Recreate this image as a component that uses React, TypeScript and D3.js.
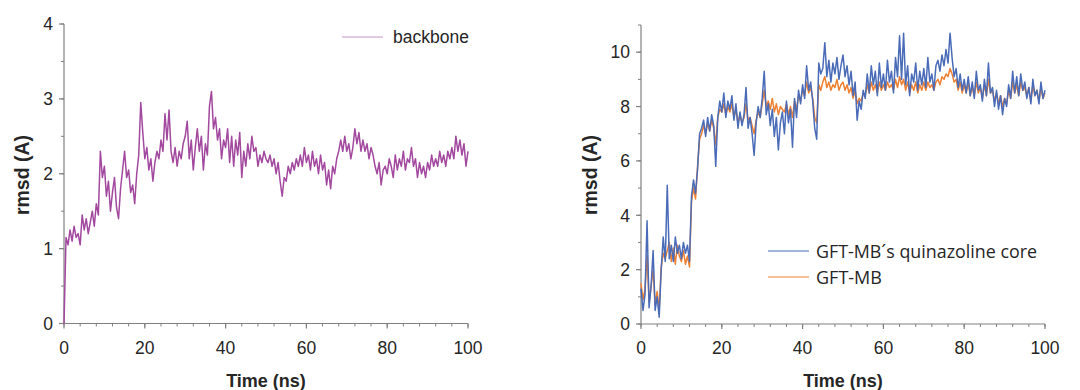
import React from "react";
import * as d3 from "d3";

// time grid (ns), one sample every 0.5 ns
const TIME: number[] = d3.range(0, 100.001, 0.5);

// left panel: backbone rmsd (A)
const BACKBONE: number[] = [
  0, 1.15, 1.05, 1.25, 1.1, 1.3, 1.15, 1.2, 1.05, 1.45,
  1.25, 1.4, 1.2, 1.35, 1.5, 1.3, 1.6, 1.45, 2.3, 1.95,
  2.1, 1.7, 1.9, 1.5, 1.75, 1.95, 1.55, 1.4, 1.8, 2.05,
  2.3, 1.95, 2.05, 1.75, 1.85, 1.6, 2.0, 2.25, 2.95, 2.55,
  2.2, 2.35, 2.05, 2.2, 1.9, 2.15, 2.3, 2.2, 2.45, 2.3,
  2.8, 2.45, 2.85, 2.3, 2.15, 2.35, 2.1, 2.3, 2.2, 2.4,
  2.5, 2.7, 2.2, 2.45, 2.05, 2.35, 2.6, 2.3, 2.5, 2.05,
  2.4, 2.25, 2.9, 3.1, 2.6, 2.75, 2.45, 2.6, 2.2, 2.45,
  2.35, 2.6, 2.15, 2.5, 2.1, 2.45, 2.25, 2.55, 1.95, 2.3,
  2.1, 2.4, 2.2, 2.5, 2.3, 2.35, 2.1, 2.25, 2.15, 2.3,
  2.2, 2.15, 2.25, 2.1, 2.2, 2.0, 2.15, 1.9, 1.7, 1.95,
  1.9, 2.1, 2.0, 2.15, 2.05, 2.2, 2.1, 2.25, 2.1, 2.35,
  2.15, 2.25, 2.05, 2.3, 2.1, 2.2, 2.0, 2.25, 2.05, 2.15,
  1.85, 2.05, 1.8, 2.1, 2.0, 2.2, 2.3, 2.45, 2.3, 2.5,
  2.3, 2.4, 2.2, 2.35, 2.6, 2.4, 2.55, 2.3, 2.45, 2.3,
  2.4, 2.2, 2.35, 2.25, 2.1, 2.0, 2.15, 1.85, 2.05, 2.1,
  2.0, 2.2, 2.1, 1.95, 2.25, 2.05, 2.2, 2.1, 2.3, 2.05,
  2.2, 2.15, 2.35, 2.1, 2.2, 1.95, 2.15, 2.0, 2.1, 1.95,
  2.15, 2.05, 2.25, 2.1, 2.2, 2.1, 2.3, 2.15, 2.25, 2.1,
  2.3, 2.2, 2.35, 2.2, 2.5, 2.3, 2.45, 2.25, 2.4, 2.1,
  2.3,
];

// right panel: GFT-MB's quinazoline core rmsd (A)
const CORE: number[] = [
  1.3, 0.5, 1.1, 3.8, 0.6, 1.4, 2.7, 0.5, 1.0, 0.25,
  2.0, 3.2, 2.3, 5.1, 2.4, 2.9, 2.3, 3.2, 2.6, 2.9,
  2.4, 3.0, 2.6, 2.9, 2.3, 4.7, 5.3, 4.8, 5.7, 7.0,
  7.2, 7.5, 6.9, 7.6, 7.1, 7.7, 7.3, 5.8, 7.6, 8.2,
  7.8, 8.5, 7.6, 8.2, 7.9, 8.4, 7.5, 8.1, 7.2, 7.8,
  7.3, 7.7, 8.7, 7.2, 7.6, 7.0, 6.2, 7.4, 8.0, 7.6,
  8.3, 9.3, 7.7, 8.1, 7.3, 7.9, 6.9, 7.6, 6.4, 7.4,
  7.8, 7.0, 8.2, 7.4, 7.9, 6.5, 8.3, 7.6, 8.6, 8.1,
  8.8, 8.3, 9.5, 8.6, 8.9, 8.2, 7.2, 6.8, 9.6, 9.2,
  9.4, 10.35, 9.1, 9.7, 8.9, 9.6, 9.2, 9.8, 9.0, 9.5,
  9.9, 9.1, 9.5, 8.8, 9.3, 8.4, 8.9, 7.5, 8.2, 7.9,
  8.6, 8.3, 9.2, 8.5, 9.5, 8.8, 9.3, 8.4, 9.6, 8.7,
  9.2, 8.6, 9.7, 8.9, 9.3, 8.5, 9.8, 9.1, 10.6, 9.0,
  10.7, 8.8, 9.5, 8.4, 9.2, 8.9, 9.6, 8.6, 9.3, 8.8,
  9.4, 8.7, 9.8, 8.9, 9.2, 8.6, 9.5, 9.7, 9.3, 9.9,
  9.5, 10.1, 9.6, 10.7, 9.8, 9.1, 9.4, 8.7, 9.2, 8.6,
  9.0, 8.5, 9.1, 8.4, 8.9, 8.3, 9.3, 8.6, 8.8, 8.2,
  9.0, 8.4, 9.6, 8.5, 8.7, 8.0, 8.6, 7.9, 8.4, 7.7,
  8.3, 8.0, 8.8, 8.3, 9.3, 8.5, 9.1, 8.4, 9.2, 8.6,
  8.9, 8.3, 8.7, 8.1, 9.0, 8.4, 8.6, 8.1, 8.9, 8.3,
  8.6,
];

// right panel: GFT-MB rmsd (A)
const WHOLE: number[] = [
  1.5, 0.9, 1.3, 2.5, 0.8, 1.4, 2.0, 0.7, 1.2, 0.5,
  2.1, 2.6, 2.4, 2.7, 3.0, 2.3, 2.8, 2.2, 2.9, 2.5,
  2.3, 2.7, 2.2, 2.5, 2.1, 4.5, 5.0, 4.6, 5.8, 6.8,
  7.0, 7.3, 7.0, 7.4, 7.1, 7.5, 7.2, 6.6, 7.6, 7.9,
  7.8, 8.1, 7.7, 8.0, 7.8, 8.1, 7.6, 7.9, 7.4, 7.7,
  7.4, 7.6, 8.1, 7.5, 7.6, 7.3, 7.0, 7.5, 7.8, 7.6,
  8.1, 8.6, 8.0, 8.2, 7.9, 8.3, 7.8, 8.1, 7.7, 8.0,
  7.9, 7.8, 8.1, 7.7, 8.0, 7.6, 8.2, 7.9, 8.4, 8.2,
  8.6, 8.4, 8.9, 8.5, 8.7, 8.3, 7.6, 7.4, 8.8, 8.6,
  8.9, 9.1, 8.7, 8.9, 8.6, 8.8, 8.7, 9.0, 8.6, 8.8,
  8.9, 8.6, 8.8, 8.5, 8.7, 8.3, 8.6, 8.1, 8.3, 8.2,
  8.5, 8.4, 8.8, 8.5, 8.9, 8.6, 8.8, 8.5, 8.9, 8.6,
  8.8, 8.6, 8.9, 8.7, 8.8, 8.6, 9.0, 8.7, 9.1, 8.8,
  9.0, 8.6, 8.9, 8.5, 8.8, 8.6, 8.9, 8.5, 8.8, 8.6,
  8.9, 8.6, 8.9, 8.7, 8.8, 8.6, 8.9, 9.0, 8.8, 9.1,
  9.0, 9.2, 9.1, 9.4, 9.2, 8.9, 9.0, 8.6, 8.9, 8.5,
  8.8, 8.5, 8.9, 8.4, 8.7, 8.4, 8.9, 8.5, 8.7, 8.3,
  8.8, 8.4, 9.0, 8.5, 8.6, 8.2, 8.5, 8.1, 8.4, 8.0,
  8.3, 8.1, 8.6, 8.3, 8.9, 8.5, 8.8, 8.4, 8.9, 8.6,
  8.7, 8.4, 8.7, 8.2, 8.8, 8.4, 8.6, 8.2, 8.7, 8.3,
  8.5,
];

const X_TICKS: number[] = [0, 20, 40, 60, 80, 100];
const X_MINOR: number[] = d3.range(0, 101, 4);
const LEFT_Y_TICKS: number[] = [0, 1, 2, 3, 4];
const LEFT_Y_MINOR: number[] = d3.range(0, 4.01, 0.5);
const RIGHT_Y_TICKS: number[] = [0, 2, 4, 6, 8, 10];
const RIGHT_Y_MINOR: number[] = d3.range(0, 11.01, 1);

const X_TITLE = "Time (ns)";
const Y_TITLE = "rmsd (A)";
const LEFT_LEGEND = "backbone";
const RIGHT_LEGEND = ["GFT-MB\u00b4s quinazoline core", "GFT-MB"];

const AXIS_COLOR = "#808080";
const TEXT_COLOR = "#262626";
const PURPLE = "#a2489e";
const PURPLE_LIGHT = "#c896c6";
const BLUE = "#4a6cb8";
const ORANGE = "#ee8033";
const FONT = "'Liberation Sans', Arial, sans-serif";

type Scale = d3.ScaleLinear<number, number>;
type PanelProps = {
  x0: number; x1: number; y0: number; y1: number;
  yMax: number; yTicks: number[]; yMinor: number[];
  titleX: number; yTitleX: number;
  children: (xs: Scale, ys: Scale) => React.ReactNode;
};

function Panel({ x0, x1, y0, y1, yMax, yTicks, yMinor, titleX, yTitleX, children }: PanelProps) {
  const xs = d3.scaleLinear().domain([0, 100]).range([x0, x1]);
  const ys = d3.scaleLinear().domain([0, yMax]).range([y0, y1]);
  return (
    <g>
      {/* axes */}
      <line x1={x0} x2={x0} y1={ys(yMax)} y2={y0} stroke={AXIS_COLOR} strokeWidth={1.2} />
      <line x1={x0} x2={x1} y1={y0} y2={y0} stroke={AXIS_COLOR} strokeWidth={1.2} />
      {yMinor.map((v) => (
        <line key={"ym" + v} x1={x0 - 3} x2={x0} y1={ys(v)} y2={ys(v)} stroke={AXIS_COLOR} strokeWidth={1} />
      ))}
      {yTicks.map((v) => (
        <g key={"y" + v}>
          <line x1={x0 - 5} x2={x0} y1={ys(v)} y2={ys(v)} stroke={AXIS_COLOR} strokeWidth={1.2} />
          <text x={x0 - 11} y={ys(v)} dy="0.36em" textAnchor="end" fontSize={17.5} fill={TEXT_COLOR} fontFamily={FONT}>{v}</text>
        </g>
      ))}
      {X_MINOR.map((v) => (
        <line key={"xm" + v} x1={xs(v)} x2={xs(v)} y1={y0} y2={y0 + 3} stroke={AXIS_COLOR} strokeWidth={1} />
      ))}
      {X_TICKS.map((v) => (
        <g key={"x" + v}>
          <line x1={xs(v)} x2={xs(v)} y1={y0} y2={y0 + 5} stroke={AXIS_COLOR} strokeWidth={1.2} />
          <text x={xs(v)} y={354} textAnchor="middle" fontSize={17.5} fill={TEXT_COLOR} fontFamily={FONT}>{v}</text>
        </g>
      ))}
      <text x={titleX} y={387} textAnchor="middle" fontSize={18} fontWeight="bold" fill={TEXT_COLOR} fontFamily={FONT}>{X_TITLE}</text>
      <text transform={`translate(${yTitleX},175) rotate(-90)`} textAnchor="middle" dy="0.35em" fontSize={19.5} fontWeight="bold" fill={TEXT_COLOR} fontFamily={FONT}>{Y_TITLE}</text>
      {children(xs, ys)}
    </g>
  );
}

export default function App() {
  const mk = (xs: Scale, ys: Scale, vals: number[]) =>
    d3.line<number>().x((_, i) => xs(TIME[i])).y((v) => ys(v))(vals) || "";

  return (
    <svg width={1080} height={390} style={{ position: "absolute", left: 0, top: 0, background: "#fff" }}>
      <rect width={1080} height={390} fill="#fff" />
      <Panel x0={64} x1={468} y0={323.5} y1={24} yMax={4} yTicks={LEFT_Y_TICKS} yMinor={LEFT_Y_MINOR} titleX={266} yTitleX={22}>
        {(xs, ys) => (
          <g>
            <path d={mk(xs, ys, BACKBONE)} fill="none" stroke={PURPLE} strokeWidth={1.5} strokeLinejoin="round" />
            <line x1={342} x2={383} y1={37} y2={37} stroke={PURPLE_LIGHT} strokeWidth={1.2} />
            <text x={393} y={43} fontSize={17.5} fill={TEXT_COLOR} fontFamily={FONT}>{LEFT_LEGEND}</text>
          </g>
        )}
      </Panel>
      <Panel x0={641} x1={1045} y0={324} y1={25} yMax={11} yTicks={RIGHT_Y_TICKS} yMinor={RIGHT_Y_MINOR} titleX={843} yTitleX={590}>
        {(xs, ys) => (
          <g>
            <path d={mk(xs, ys, WHOLE)} fill="none" stroke={ORANGE} strokeWidth={1.5} strokeLinejoin="round" />
            <path d={mk(xs, ys, CORE)} fill="none" stroke={BLUE} strokeWidth={1.5} strokeLinejoin="round" />
            <line x1={768} x2={809} y1={251} y2={251} stroke={BLUE} strokeWidth={1.2} />
            <line x1={768} x2={809} y1={277} y2={277} stroke={ORANGE} strokeWidth={1.2} />
            <text x={816} y={258} fontSize={18} fill={TEXT_COLOR} fontFamily="'Open Sans', 'Noto Sans', sans-serif" textLength={221} lengthAdjust="spacingAndGlyphs">{RIGHT_LEGEND[0]}</text>
            <text x={816} y={284} fontSize={18} fill={TEXT_COLOR} fontFamily="'Open Sans', 'Noto Sans', sans-serif">{RIGHT_LEGEND[1]}</text>
          </g>
        )}
      </Panel>
    </svg>
  );
}
